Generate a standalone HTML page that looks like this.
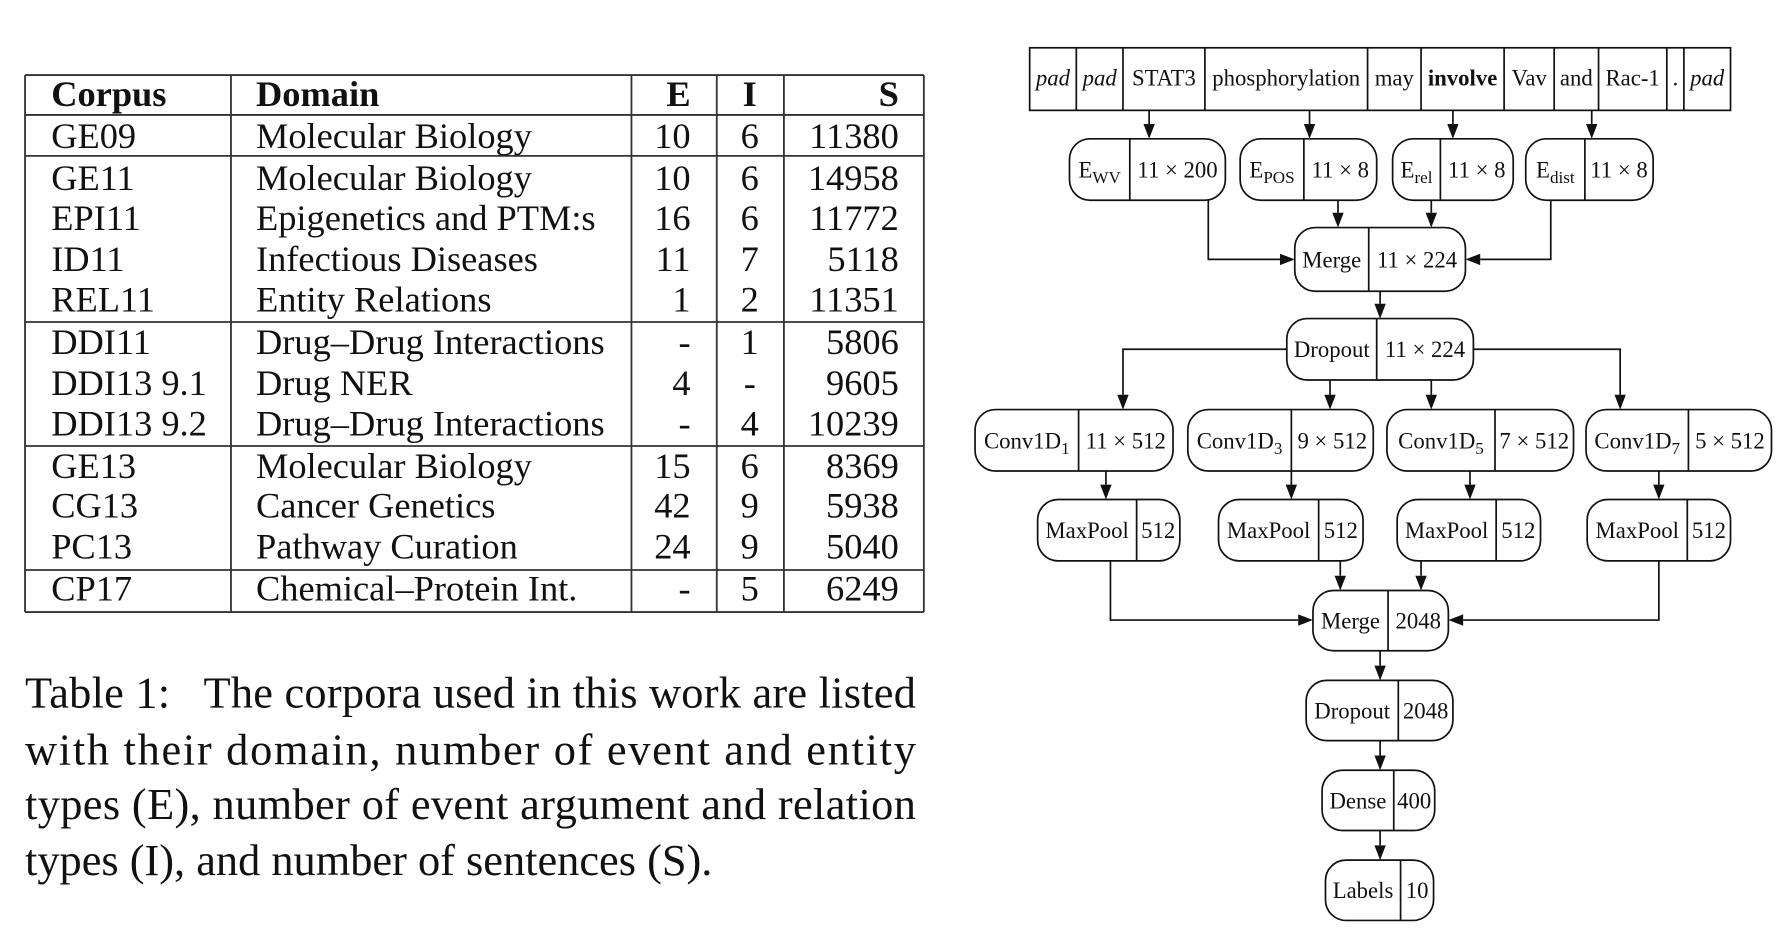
<!DOCTYPE html>
<html><head><meta charset="utf-8">
<style>
html,body{margin:0;padding:0;background:#fff;}
svg{display:block;}
text{font-family:"Liberation Serif",serif;fill:#111;}
</style></head>
<body>
<svg id="fig" width="1784" height="950" viewBox="0 0 1568 835" preserveAspectRatio="none">
<g id="table"></g>
<g id="caption">
<text x="22" y="622" font-size="39" textLength="783" lengthAdjust="spacing" xml:space="preserve">Table 1:   The corpora used in this work are listed</text>
<text x="22" y="672" font-size="39" textLength="783" lengthAdjust="spacing">with their domain, number of event and entity</text>
<text x="22" y="720" font-size="39" textLength="783" lengthAdjust="spacing">types (E), number of event argument and relation</text>
<text x="22" y="769" font-size="39">types (I), and number of sentences (S).</text>
</g>
<g id="diagram"></g>
</svg>
<script>
const NS="http://www.w3.org/2000/svg";
function mk(parent,tag,attrs,txt){const e=document.createElementNS(NS,tag);for(const k in attrs)e.setAttribute(k,attrs[k]);if(txt!==undefined)e.textContent=txt;parent.appendChild(e);return e;}

/* ---------- table ---------- */
const corpora=["GE09","GE11","EPI11","ID11","REL11","DDI11","DDI13 9.1","DDI13 9.2","GE13","CG13","PC13","CP17"];
const domains=["Molecular Biology","Molecular Biology","Epigenetics and PTM:s","Infectious Diseases","Entity Relations","Drug–Drug Interactions","Drug NER","Drug–Drug Interactions","Molecular Biology","Cancer Genetics","Pathway Curation","Chemical–Protein Int."];
const eVals=["10","10","16","11","1","-","4","-","15","42","24","-"];
const iVals=["6","6","6","7","2","1","-","4","6","9","9","5"];
const sVals=["11380","14958","11772","5118","11351","5806","9605","10239","8369","5938","5040","6249"];
const rowCenters=[119,156,191,227,263,300,336,372,409,444,480,517];
const T=document.getElementById('table');
const colX=[22,203,555,630,689,812];
const hLines=[66,101,137,283,392,501,538];
colX.forEach(x=>{const l=mk(T,'line',{x1:x,x2:x,y1:66,y2:538,stroke:'#333','stroke-width':1.6});

});
hLines.forEach(y=>{const l=mk(T,'line',{x1:22,x2:812,y1:y,y2:y,stroke:'#333','stroke-width':1.6});

});
const hdr=[["Corpus",45,"start"],["Domain",225,"start"],["E",607,"end"],["I",659,"middle"],["S",790,"end"]];
hdr.forEach(h=>{const t=mk(T,'text',{x:h[1],y:93,'font-size':32,'font-weight':'bold','text-anchor':h[2]},h[0]);

});
corpora.forEach((c,i)=>{const y=rowCenters[i]+11;
const a=mk(T,'text',{x:45,y:y,'font-size':32},c);


const b=mk(T,'text',{x:225,y:y,'font-size':32},domains[i]);


const e=mk(T,'text',{x:607,y:y,'font-size':32,'text-anchor':'end'},eVals[i]);


const n=mk(T,'text',{x:659,y:y,'font-size':32,'text-anchor':'middle'},iVals[i]);


const s=mk(T,'text',{x:790,y:y,'font-size':32,'text-anchor':'end'},sVals[i]);

});

/* ---------- diagram ---------- */
const D=document.getElementById('diagram');
const SW=1.5;
// token row
const tokens=["pad","pad","STAT3","phosphorylation","may","involve","Vav","and","Rac-1",".","pad"];
const tokEdges=[905,946,987,1059,1202,1249,1322,1366,1405,1465,1480,1521];
const tr=mk(D,'rect',{x:905,y:42,width:616,height:55,fill:'none',stroke:'#111','stroke-width':SW});


tokens.forEach((t,i)=>{
 if(i>0){const l=mk(D,'line',{x1:tokEdges[i],x2:tokEdges[i],y1:42,y2:97,stroke:'#111','stroke-width':SW});
 
 }
 const attrs={x:(tokEdges[i]+tokEdges[i+1])/2,y:75,'font-size':20,'text-anchor':'middle'};
 if(t==='pad')attrs['font-style']='italic';
 if(t==='involve')attrs['font-weight']='bold';
 const tx=mk(D,'text',attrs,t);
 
 
});
function box(name,x1,x2,y1,y2,dv,left,sub,right){
 const g=mk(D,'g',{});
 
 
 mk(g,'rect',{x:x1,y:y1,width:x2-x1,height:y2-y1,rx:18,ry:18,fill:'#fff',stroke:'#111','stroke-width':SW});
 mk(g,'line',{x1:dv,x2:dv,y1:y1,y2:y2,stroke:'#111','stroke-width':SW});
 const cy=(y1+y2)/2+7;
 const lt=mk(g,'text',{x:(x1+dv)/2,y:cy,'font-size':20,'text-anchor':'middle'},left);
 if(sub){mk(lt,'tspan',{'font-size':15,dy:5},sub);}
 mk(g,'text',{x:(dv+x2)/2,y:cy,'font-size':20,'text-anchor':'middle'},right);
}
function arrow(x,y1,y2){
 const g=mk(D,'g',{});
 
 
 mk(g,'line',{x1:x,x2:x,y1:y1,y2:y2-13,stroke:'#111','stroke-width':SW});
 mk(g,'polygon',{points:`${x-5},${y2-13} ${x+5},${y2-13} ${x},${y2}`,fill:'#111'});
}
function harrow(x1,y1,yc,x2){ // vertical down then horizontal to x2
 const g=mk(D,'g',{});
 
 
 const dir=x2>x1?1:-1;
 mk(g,'polyline',{points:`${x1},${y1} ${x1},${yc} ${x2-dir*13},${yc}`,fill:'none',stroke:'#111','stroke-width':SW});
 mk(g,'polygon',{points:`${x2-dir*13},${yc-5} ${x2-dir*13},${yc+5} ${x2},${yc}`,fill:'#111'});
}
function elbowDown(x1,y,x2,y2){
 const g=mk(D,'g',{});
 
 
 mk(g,'polyline',{points:`${x1},${y} ${x2},${y} ${x2},${y2-13}`,fill:'none',stroke:'#111','stroke-width':SW});
 mk(g,'polygon',{points:`${x2-5},${y2-13} ${x2+5},${y2-13} ${x2},${y2}`,fill:'#111'});
}
// embeddings
arrow(1010,97,122);arrow(1151,97,122);arrow(1277,97,122);arrow(1399,97,122);
box('embedding-wv',940,1077,122,176,993,'E','WV','11 × 200');
box('embedding-pos',1090,1210,122,176,1146,'E','POS','11 × 8');
box('embedding-rel',1224,1330,122,176,1266,'E','rel','11 × 8');
box('embedding-dist',1341,1453,122,176,1393,'E','dist','11 × 8');
arrow(1176,176,200);arrow(1258,176,200);
harrow(1062,176,228,1138);harrow(1363,176,228,1288);
box('merge-embeddings',1138,1288,200,256,1203,'Merge','','11 × 224');
arrow(1213,256,280);
box('dropout-1',1131,1295,280,334,1210,'Dropout','','11 × 224');
elbowDown(1131,307,987,360);elbowDown(1295,307,1424,360);
arrow(1169,334,360);arrow(1258,334,360);
box('conv1d-1',857,1031,360,414,948,'Conv1D','1','11 × 512');
box('conv1d-3',1044,1207,360,414,1135,'Conv1D','3','9 × 512');
box('conv1d-5',1219,1383,360,414,1314,'Conv1D','5','7 × 512');
box('conv1d-7',1394,1557,360,414,1484,'Conv1D','7','5 × 512');
arrow(972,414,439);arrow(1135,414,439);arrow(1292,414,439);arrow(1458,414,439);
box('maxpool-1',912,1037,439,493,999,'MaxPool','','512');
box('maxpool-2',1071,1198,439,493,1159,'MaxPool','','512');
box('maxpool-3',1228,1354,439,493,1315,'MaxPool','','512');
box('maxpool-4',1395,1521,439,493,1483,'MaxPool','','512');
arrow(1178,493,519);arrow(1249,493,519);
harrow(976,493,545,1154);harrow(1458,493,545,1273);
box('merge-pooled',1154,1273,519,572,1220,'Merge','','2048');
arrow(1213,572,598);
box('dropout-2',1148,1277,598,651,1229,'Dropout','','2048');
arrow(1213,651,677);
box('dense',1162,1261,677,730,1225,'Dense','','400');
arrow(1213,730,756);
box('labels-output',1165,1260,756,809,1231,'Labels','','10');
</script>
</body></html>
